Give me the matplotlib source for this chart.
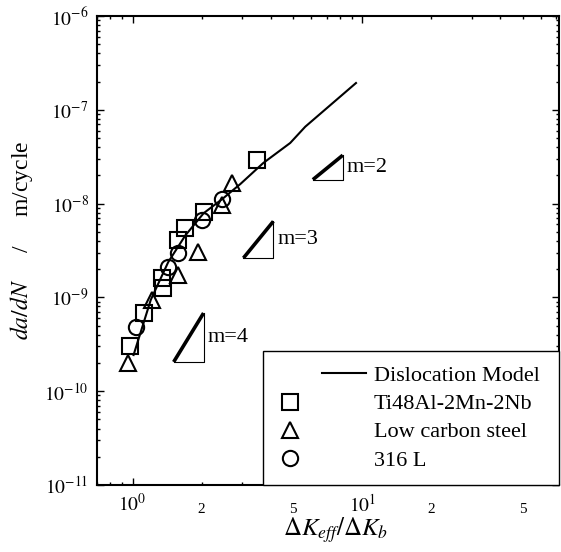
import numpy as np
import matplotlib
matplotlib.use("Agg")
import matplotlib.pyplot as plt
from matplotlib.ticker import LogLocator, FuncFormatter, NullFormatter
from matplotlib.legend_handler import HandlerLine2D

plt.rcParams['font.family'] = 'serif'
plt.rcParams['font.serif'] = ['Liberation Serif', 'DejaVu Serif']
plt.rcParams['mathtext.fontset'] = 'stix'

# Dislocation model curve
model_x = [1.01, 1.20, 1.43, 1.70, 2.04, 2.46, 2.95, 3.71, 4.86, 5.65, 9.4]
model_y = [2.43e-10, 9.4e-10, 2.38e-9, 4.6e-9, 7.9e-9, 1.12e-8, 1.62e-8,
           2.71e-8, 4.43e-8, 6.6e-8, 1.93e-7]

# Ti48Al-2Mn-2Nb
ti_x = [0.97, 1.12, 1.35, 1.36, 1.585, 1.70, 2.04, 3.50]
ti_y = [3.0e-10, 6.8e-10, 1.61e-9, 1.26e-9, 4.1e-9, 5.5e-9, 8.1e-9, 2.92e-8]

# Low carbon steel
lc_x = [0.96, 1.22, 1.57, 1.92, 2.46, 2.72]
lc_y = [2.0e-10, 9.4e-10, 1.73e-9, 3.05e-9, 9.7e-9, 1.66e-8]

# 316 L
ss_x = [1.04, 1.42, 1.57, 2.01, 2.44]
ss_y = [4.8e-10, 2.1e-9, 2.97e-9, 6.7e-9, 1.12e-8]

# slope triangles
slope_m = [2, 3, 4]
slope_x0 = [6.1, 3.04, 1.51]
slope_y0 = [1.8e-8, 2.63e-9, 2.05e-10]
slope_ratio = 1.35


class SpanHandler(HandlerLine2D):
    # put the legend handle only over part of the handle box
    def __init__(self, a, b):
        super().__init__(numpoints=1)
        self.a, self.b = a, b

    def get_xdata(self, legend, xdescent, ydescent, width, height, fontsize):
        x = -xdescent + width * np.array([self.a, self.b])
        return x, np.array([x.mean()])


fig = plt.figure(figsize=(5.61, 5.52), dpi=100)
ax = fig.add_axes([97 / 561, 67 / 552, 462 / 561, 469 / 552])

mk = dict(ls='none', mfc='none', mec='black', mew=1.5, ms=11)
sq, = ax.plot(ti_x, ti_y, marker='s', label='Ti48Al-2Mn-2Nb', **mk)
tr, = ax.plot(lc_x, lc_y, marker='^', label='Low carbon steel', **mk)
ci, = ax.plot(ss_x, ss_y, marker='o', label='316 L', **mk)
line, = ax.plot(model_x, model_y, color='black', lw=1.5, label='Dislocation Model')

for m, x0, y0 in zip(slope_m, slope_x0, slope_y0):
    x1 = x0 * slope_ratio
    y1 = y0 * slope_ratio ** m
    ax.plot([x0, x1], [y0, y1], color='black', lw=2.6, solid_capstyle='butt')
    ax.plot([x0, x1, x1], [y0, y0, y1], color='black', lw=0.8)
    ax.text(x1 * 1.04, np.sqrt(y0 * y1), 'm=%d' % m, fontsize=16,
            ha='left', va='center')

ax.set_xscale('log')
ax.set_yscale('log')
ax.set_xlim(0.7, 72)
ax.set_ylim(1e-11, 1e-6)

ax.xaxis.set_major_locator(LogLocator(base=10, numticks=10))
ax.xaxis.set_minor_locator(LogLocator(base=10, subs=np.arange(2, 10), numticks=20))
ax.xaxis.set_major_formatter(FuncFormatter(lambda v, p: r'$10^{%d}$' % round(np.log10(v))))


def minor_fmt(v, p):
    mant = v / 10 ** np.floor(np.log10(v) + 1e-9)
    if abs(mant - 2) < 1e-6 or abs(mant - 5) < 1e-6:
        return '%d' % round(mant)
    return ''


ax.xaxis.set_minor_formatter(FuncFormatter(minor_fmt))
ax.yaxis.set_major_locator(LogLocator(base=10, numticks=10))
ax.yaxis.set_minor_locator(LogLocator(base=10, subs=np.arange(2, 10), numticks=20))
ax.yaxis.set_major_formatter(FuncFormatter(lambda v, p: r'$10^{%d}$' % round(np.log10(v))))
ax.yaxis.set_minor_formatter(NullFormatter())

ax.tick_params(which='both', direction='in', top=True, right=True, width=1.0)
ax.tick_params(which='major', length=5, labelsize=14, pad=6)
ax.tick_params(which='minor', length=2.5)
ax.tick_params(axis='x', which='minor', labelsize=11, pad=13)
for s in ax.spines.values():
    s.set_linewidth(1.5)

ax.set_xlabel(r'$\Delta K_{eff}/\Delta K_b$', fontsize=18)
ax.xaxis.set_label_coords(0.517, -0.065)
ax.set_ylabel(r'$da/dN$     /     m/cycle', fontsize=17)
ax.yaxis.set_label_coords(-0.134, 0.522)

leg = ax.legend([line, sq, tr, ci],
                ['Dislocation Model', 'Ti48Al-2Mn-2Nb', 'Low carbon steel', '316 L'],
                handler_map={line: SpanHandler(0.5, 1.0), sq: SpanHandler(0.14, 0.14),
                             tr: SpanHandler(0.14, 0.14), ci: SpanHandler(0.14, 0.14)},
                loc='lower left', bbox_to_anchor=(0.359, 0, 0.641, 0.281), mode='expand',
                borderaxespad=0, fontsize=16, handlelength=4.0, handletextpad=0.33,
                labelspacing=0.34, borderpad=0.65, fancybox=False, framealpha=1,
                edgecolor='black')
leg.get_frame().set_linewidth(1.0)

fig.savefig('out.png', dpi=100)
